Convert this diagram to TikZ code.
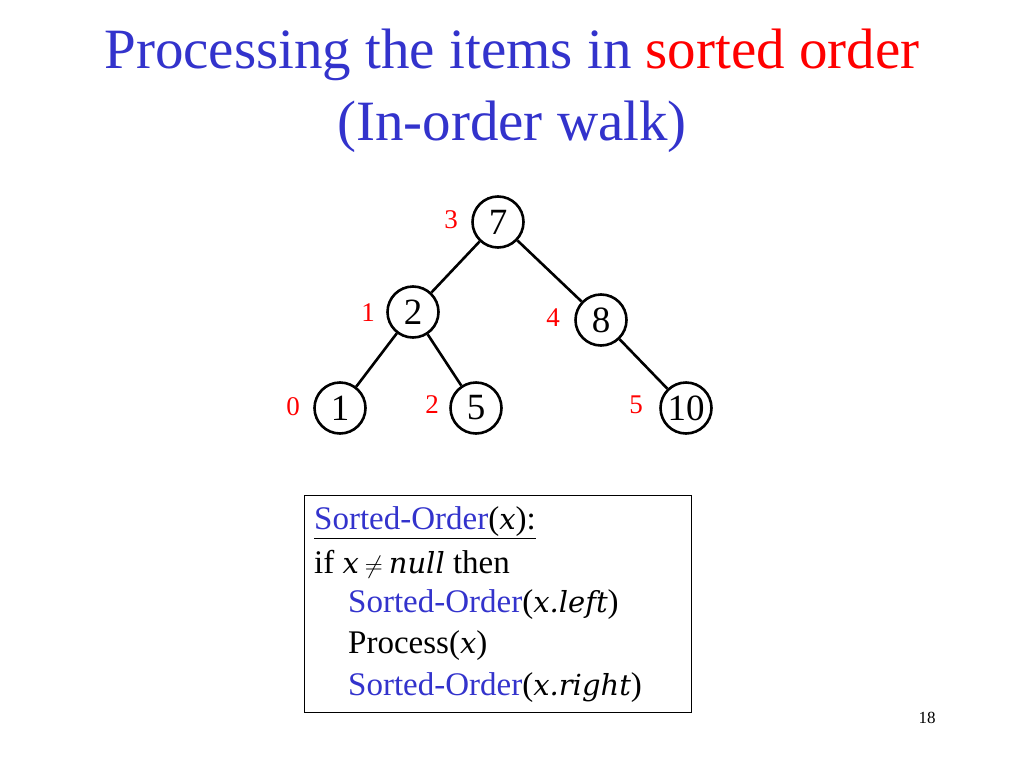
\documentclass[tikz,border=0pt]{standalone}
\usepackage{fontspec}
\setmainfont{Liberation Serif}
\newfontfamily\mif{DejaVu Serif}
\newcommand{\mi}[1]{{\mif\itshape\fontsize{29}{29}\selectfont #1}}
\begin{document}
\begin{tikzpicture}[x=1pt,y=-1pt,
  tn/.style={circle,draw,line width=2.6pt,minimum size=51pt,inner sep=0pt,font=\fontsize{37}{37}\selectfont},
  rl/.style={text=red,font=\fontsize{27}{27}\selectfont},
  ed/.style={line width=2.6pt},
  cl/.style={anchor=west,font=\fontsize{33}{33}\selectfont,inner sep=0pt}]
\useasboundingbox (0,0) rectangle (1024,768);
\definecolor{tb}{RGB}{51,51,204}
\node[text=tb,font=\fontsize{57}{57}\selectfont] (t1) at (512,55) {Processing the items in \textcolor{red}{sorted order}};
\node[text=tb,font=\fontsize{57}{57}\selectfont] (t2) at (512,127) {(In-order walk)};
\node[tn] (n7) at (498,222) {7};
\node[tn] (n2) at (413,312) {2};
\node[tn] (n8) at (601,320) {8};
\node[tn] (n1) at (340,408) {1};
\node[tn] (n5) at (476,408) {5};
\node[tn] (n10) at (686,408) {10};
\draw[ed] (n7)--(n2); \draw[ed] (n7)--(n8); \draw[ed] (n2)--(n1); \draw[ed] (n2)--(n5); \draw[ed] (n8)--(n10);
\node[rl] (r3) at (451,220) {3};
\node[rl] (r1) at (368,313) {1};
\node[rl] (r4) at (553,318) {4};
\node[rl] (r0) at (293,407) {0};
\node[rl] (r2) at (432,405) {2};
\node[rl] (r5) at (636,405) {5};
\draw[line width=0.8pt] (304,495) rectangle (691,712);
\node[cl] (c1) at (314,523) {\underline{\textcolor{tb}{Sorted-Order}(\mi{x}):}};
\node[cl] (c2) at (314,564) {if \mi{x}\hspace{6pt}\mi{$\neq$}\hspace{6pt}\mi{null} then};
\node[cl] (c3) at (348,605) {\textcolor{tb}{Sorted-Order}(\mi{x.left})};
\node[cl] (c4) at (348,646) {Process(\mi{x})};
\node[cl] (c5) at (348,688) {\textcolor{tb}{Sorted-Order}(\mi{x.right})};
\node[font=\fontsize{17}{17}\selectfont] (pg) at (927,718) {18};
\end{tikzpicture}
\end{document}
